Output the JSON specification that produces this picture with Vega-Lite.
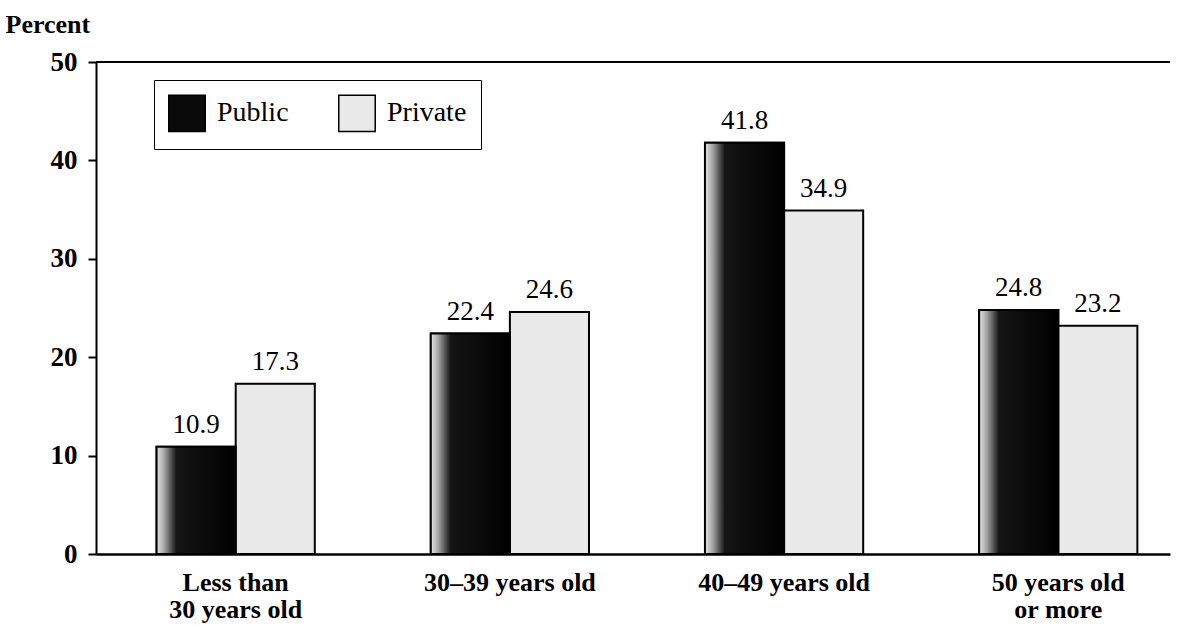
{
  "$schema": "https://vega.github.io/schema/vega-lite/v6.json",
  "width": 1074,
  "height": 492,
  "autosize": {"type": "none"},
  "padding": {"left": 96, "top": 62, "right": 15, "bottom": 73},
  "background": "white",
  "config": {"view": {"stroke": null}, "font": "Liberation Serif"},
  "data": {
    "values": [
      {"age": "Less than|30 years old", "type": "Public", "value": 10.9},
      {"age": "Less than|30 years old", "type": "Private", "value": 17.3},
      {"age": "30–39 years old", "type": "Public", "value": 22.4},
      {"age": "30–39 years old", "type": "Private", "value": 24.6},
      {"age": "40–49 years old", "type": "Public", "value": 41.8},
      {"age": "40–49 years old", "type": "Private", "value": 34.9},
      {"age": "50 years old|or more", "type": "Public", "value": 24.8},
      {"age": "50 years old|or more", "type": "Private", "value": 23.2}
    ]
  },
  "layer": [
    {
      "mark": {"type": "bar", "stroke": "black", "strokeWidth": 2},
      "encoding": {
        "x": {
          "field": "age", "type": "nominal",
          "sort": ["Less than|30 years old", "30–39 years old", "40–49 years old", "50 years old|or more"],
          "scale": {"paddingInner": 0.423, "paddingOuter": 0.17, "align": 0.65},
          "axis": {
            "title": null, "labelAngle": 0, "ticks": false,
            "domainColor": "black", "domainWidth": 2.5,
            "labelExpr": "split(datum.label, '|')",
            "labelFont": "Liberation Serif", "labelFontSize": 26, "labelFontWeight": "bold",
            "labelColor": "black", "labelPadding": 15, "labelLineHeight": 27, "labelBaseline": "top"
          }
        },
        "xOffset": {"field": "type", "sort": ["Public", "Private"], "scale": {"paddingInner": 0, "paddingOuter": 0}},
        "y": {
          "field": "value", "type": "quantitative",
          "scale": {"domain": [0, 50], "nice": false},
          "axis": {
            "values": [0, 10, 20, 30, 40, 50], "grid": false,
            "domainColor": "black", "domainWidth": 2, "tickColor": "black", "tickWidth": 2, "tickSize": 8,
            "labelFont": "Liberation Serif", "labelFontSize": 27, "labelFontWeight": "bold", "labelColor": "black", "labelPadding": 11,
            "title": "Percent", "titleAngle": 0, "titleAlign": "left", "titleBaseline": "alphabetic",
            "titleX": -91, "titleY": -30, "titleFont": "Liberation Serif", "titleFontSize": 26, "titleFontWeight": "bold", "titleColor": "black"
          }
        },
        "color": {
          "field": "type", "type": "nominal",
          "scale": {"domain": ["Public", "Private"], "range": ["#0a0a0a", "#e9e9e9"]},
          "legend": {
            "title": null, "orient": "none", "legendX": 58, "legendY": 18, "direction": "horizontal",
            "strokeColor": "black", "padding": 14,
            "symbolType": "square", "symbolSize": 1330, "symbolStrokeColor": "black", "symbolStrokeWidth": 1.5, "symbolOpacity": 1,
            "labelFont": "Liberation Serif", "labelFontSize": 28, "labelColor": "black", "labelOffset": 11, "columnPadding": 46
          }
        }
      }
    },
    {
      "transform": [{"filter": "datum.type === 'Public'"}],
      "mark": {
        "type": "bar", "stroke": "black", "strokeWidth": 2,
        "fill": {"gradient": "linear", "x1": 0, "y1": 0, "x2": 1, "y2": 0, "stops": [
          {"offset": 0, "color": "#e6e6e6"},
          {"offset": 0.1, "color": "#a0a0a0"},
          {"offset": 0.25, "color": "#151515"},
          {"offset": 1, "color": "#000000"}
        ]}
      },
      "encoding": {
        "x": {"field": "age", "type": "nominal", "sort": ["Less than|30 years old", "30–39 years old", "40–49 years old", "50 years old|or more"]},
        "xOffset": {"field": "type", "sort": ["Public", "Private"]},
        "y": {"field": "value", "type": "quantitative"}
      }
    },
    {
      "mark": {"type": "text", "baseline": "bottom", "dy": -8, "fontSize": 27, "font": "Liberation Serif", "color": "black"},
      "encoding": {
        "x": {"field": "age", "type": "nominal", "sort": ["Less than|30 years old", "30–39 years old", "40–49 years old", "50 years old|or more"]},
        "xOffset": {"field": "type", "sort": ["Public", "Private"]},
        "y": {"field": "value", "type": "quantitative"},
        "text": {"field": "value", "type": "quantitative", "format": ".1f"}
      }
    },
    {
      "mark": {"type": "rule", "stroke": "black", "strokeWidth": 2},
      "encoding": {"y": {"datum": 50}}
    }
  ]
}
